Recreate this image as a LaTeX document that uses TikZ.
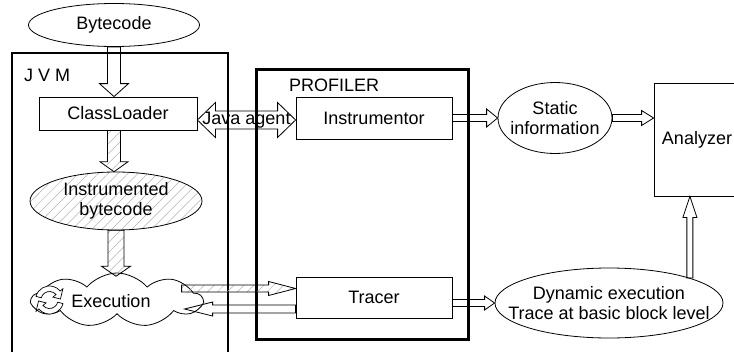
\documentclass[tikz,border=0pt]{standalone}
\usepackage{fontspec}
\setmainfont{Liberation Sans}
\usetikzlibrary{shapes.geometric,shapes.symbols,patterns.meta,calc,arrows.meta}

% block arrow: [opts]{from}{to}{half shaft}{half head}{head length}
\newcommand{\blockarrow}[6][]{%
  \coordinate (ba-base) at ($(#3)!#6!(#2)$);
  \draw[fat,#1] ($(#2)!#4!90:(#3)$) -- ($(ba-base)!#4!90:(#3)$) -- ($(ba-base)!#5!90:(#3)$) -- (#3)
    -- ($(ba-base)!#5!-90:(#3)$) -- ($(ba-base)!#4!-90:(#3)$) -- ($(#2)!#4!-90:(#3)$) -- cycle;
}
% same, with a head at both ends
\newcommand{\blockdarrow}[6][]{%
  \coordinate (bd-a) at ($(#2)!#6!(#3)$);
  \coordinate (bd-b) at ($(#3)!#6!(#2)$);
  \draw[fat,#1] (#2) -- ($(bd-a)!#5!90:(#3)$) -- ($(bd-a)!#4!90:(#3)$) -- ($(bd-b)!#4!90:(#3)$)
    -- ($(bd-b)!#5!90:(#3)$) -- (#3) -- ($(bd-b)!#5!-90:(#3)$) -- ($(bd-b)!#4!-90:(#3)$)
    -- ($(bd-a)!#4!-90:(#3)$) -- ($(bd-a)!#5!-90:(#3)$) -- cycle;
}

\tikzset{
  box/.style={draw, line width=0.8pt, rectangle, inner sep=0pt},
  oval/.style={draw, line width=0.8pt, ellipse, inner sep=0pt},
  frame/.style={draw, line width=2.5pt, rectangle, inner sep=0pt, anchor=north west},
  hatch/.style={pattern={Lines[angle=45,distance=7pt,line width=0.5pt]}, pattern color=gray!60},
  fat/.style={line width=0.8pt, line join=miter},
  spin/.style={draw, fill=white, line width=0.7pt, line join=miter},
}

\begin{document}
\begin{tikzpicture}[x=1pt, y=-1pt, font=\fontsize{18}{20}\selectfont]
  \useasboundingbox (0,0) rectangle (734,351);

  % containers (the JVM one runs off the bottom)
  \draw[line width=2.5pt] (12,380) |- (228,53) -- (228,380);
  \node[anchor=west, inner sep=0pt] (jvmlabel) at (24,75) {J V M};
  \node[frame, minimum width=212pt, minimum height=270pt] (prof) at (255,68) {};
  \node[anchor=west, inner sep=0pt] (proflabel) at (289,85) {PROFILER};

  % blocks
  \node[oval, minimum width=171pt, minimum height=43pt, label=center:Bytecode] (byte) at (114,25) {};
  \node[box, minimum width=158pt, minimum height=33pt] (cl) at (118,113.5) {ClassLoader};
  \node[oval, hatch, minimum width=172pt, minimum height=58pt,
        label={[align=center]center:Instrumented\\bytecode}] (ib) at (116,201) {};
  \node[cloud, draw, line width=0.8pt, cloud puffs=9, cloud puff arc=100, aspect=3.1,
        minimum width=170pt, minimum height=54pt, inner sep=0pt] (exec) at (117,300) {};
  \node (exectext) at (111,301) {Execution};
  \node[box, minimum width=156pt, minimum height=42pt] (ins) at (374,118) {Instrumentor};
  \node[box, minimum width=156pt, minimum height=41pt] (tr) at (374,297.5) {Tracer};
  \node[oval, minimum width=114pt, minimum height=71pt,
        label={[align=center]center:Static\\information}] (stat) at (555,118) {};
  \node[box, minimum width=86pt, minimum height=113pt] (ana) at (697,139.5) {Analyzer};
  \node[oval, minimum width=228pt, minimum height=70pt,
        label={[align=center]center:Dynamic execution\\Trace at basic block level}] (dyn) at (609,303) {};

  % refresh icon
  \coordinate (icon) at (49.5,300);
  \foreach \r in {0,180}
    \path[spin, shift={(icon)}, rotate=\r]
      (165:14pt) arc[start angle=165, end angle=40, radius=14pt] -- (40:17.5pt) -- (5:11pt)
      -- (40:4.5pt) -- (40:8.5pt) arc[start angle=40, end angle=165, radius=8.5pt] -- cycle;

  % arrows in the JVM
  \coordinate (bytedown) at (byte.south |- cl.north);
  \blockarrow{byte.south}{bytedown}{6.5pt}{14.5pt}{13pt}
  \coordinate (clout) at (byte.south |- cl.south);
  \coordinate (ibin) at (byte.south |- ib.north);
  \blockarrow[hatch]{clout}{ibin}{6.5pt}{14pt}{10pt}
  \coordinate (execin) at ($(ib.south)+(0,46)$);
  \blockarrow[hatch]{ib.south}{execin}{8pt}{14.5pt}{10pt}

  % java agent
  \coordinate (jaL) at ($(cl.east)+(0,6.5)$);
  \coordinate (jaR) at (jaL -| ins.west);
  \blockdarrow{jaL}{jaR}{9pt}{17.5pt}{18pt}
  \node (jatext) at ($(jaL)!0.5!(jaR)$) {Java agent};

  % execution <-> tracer
  \coordinate (exA) at ($(tr.west)+(-114,-9)$);
  \coordinate (exB) at ($(tr.west)+(0,-9)$);
  \blockarrow[hatch]{exA}{exB}{3.5pt}{7pt}{27pt}
  \coordinate (trA) at ($(tr.west)+(0,11.5)$);
  \coordinate (trB) at ($(tr.west)+(-111,11.5)$);
  \blockarrow{trA}{trB}{4pt}{7pt}{28pt}

  % to the analyzer
  \blockarrow{ins.east}{stat.west}{3.5pt}{9pt}{11pt}
  \coordinate (anain) at (stat.east -| ana.west);
  \blockarrow{stat.east}{anain}{3.5pt}{7.5pt}{12pt}
  \coordinate (trout) at (tr.east |- dyn.west);
  \blockarrow{trout}{dyn.west}{3.5pt}{7pt}{10pt}
  \coordinate (anabot) at (dyn.north east |- ana.south);
  \blockarrow{dyn.north east}{anabot}{3pt}{7pt}{21pt}
\end{tikzpicture}
\end{document}
